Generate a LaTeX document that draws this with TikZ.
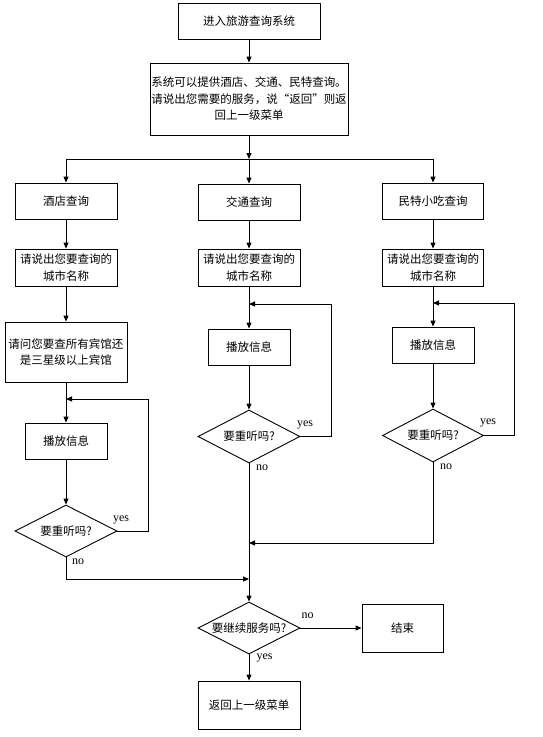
\documentclass[tikz,border=0pt]{standalone}
\usepackage{fontspec}
\setmainfont{Liberation Serif}
\newfontfamily\cjk{Noto Sans CJK SC}
\usetikzlibrary{arrows.meta,shapes.geometric}
\begin{document}
\begin{tikzpicture}[x=1pt,y=-1pt,
  box/.style={draw,rectangle,inner sep=0pt,align=center,font=\cjk\fontsize{11.5}{16.5}\selectfont},
  dia/.style={draw,diamond,shape aspect=2,inner sep=0pt,minimum width=102pt,minimum height=52pt,font=\cjk\fontsize{11.5}{14}\selectfont},
  arr/.style={-{Triangle[length=6pt,width=5pt]}},
  lbl/.style={font=\fontsize{12}{12}\selectfont,inner sep=0pt},
  line width=0.9pt]
\useasboundingbox (0,0) rectangle (542,737);
% nodes
\node[box,minimum width=142pt,minimum height=36pt] (start) at (249,21) {进入旅游查询系统};
\node[box,minimum width=198pt,minimum height=72pt] (sys) at (249,99) {系统可以提供酒店、交通、民特查询。\\请说出您需要的服务，说“返回”则返\\回上一级菜单};
\node[box,minimum width=102pt,minimum height=36pt] (hotel) at (66,201) {酒店查询};
\node[box,minimum width=102pt,minimum height=36pt] (traffic) at (249,202) {交通查询};
\node[box,minimum width=101pt,minimum height=36pt] (food) at (433,201) {民特小吃查询};
\node[box,minimum width=102pt,minimum height=37pt] (city1) at (66,267.5) {请说出您要查询的\\城市名称};
\node[box,minimum width=102pt,minimum height=37pt] (city2) at (249,267.5) {请说出您要查询的\\城市名称};
\node[box,minimum width=101pt,minimum height=37pt] (city3) at (433,267.5) {请说出您要查询的\\城市名称};
\node[box,minimum width=122pt,minimum height=60pt] (ask) at (66,352) {请问您要查所有宾馆还\\是三星级以上宾馆};
\node[box,minimum width=82pt,minimum height=36pt] (play1) at (66,441) {播放信息};
\node[box,minimum width=82pt,minimum height=36pt] (play2) at (249,347) {播放信息};
\node[box,minimum width=82pt,minimum height=36pt] (play3) at (433,345) {播放信息};
\node[dia] (dia1) at (66,531) {要重听吗?};
\node[dia,minimum height=53pt] (dia2) at (249,436.5) {要重听吗?};
\node[dia,minimum width=101pt,minimum height=53pt] (dia3) at (433,435.5) {要重听吗?};
\node[dia] (dia4) at (249,628) {要继续服务吗?};
\node[box,minimum width=81pt,minimum height=48pt] (end) at (402.5,628) {结束};
\node[box,minimum width=102pt,minimum height=48pt] (back) at (249,705) {返回上一级菜单};
% labels
\node[lbl] (y1) at (121,520) {yes};
\node[lbl] (y2) at (305,424.5) {yes};
\node[lbl] (y3) at (488,423) {yes};
\node[lbl] (n1) at (78,562) {no};
\node[lbl] (n2) at (262,468) {no};
\node[lbl] (n3) at (446,467) {no};
\node[lbl] (n4) at (307.5,615.5) {no};
\node[lbl] (y4) at (264.5,658) {yes};
% coordinates
\coordinate (br) at (249,159);
\coordinate (m1) at (66,399);
\coordinate (r1) at (148,399);
\coordinate (m2) at (249,304);
\coordinate (r2) at (331,304);
\coordinate (m3) at (433,303);
\coordinate (r3) at (514,303);
\coordinate (jL) at (249,579);
\coordinate (jR) at (249,543);
% connectors
\draw[arr] (start) -- (sys);
\draw[arr] (sys) -- (br);
\draw[arr] (br) -- (traffic);
\draw[arr] (br) -| (hotel);
\draw[arr] (br) -| (food);
\draw[arr] (hotel) -- (city1);
\draw[arr] (traffic) -- (city2);
\draw[arr] (food) -- (city3);
\draw[arr] (city1) -- (ask);
\draw[arr] (city2) -- (play2);
\draw[arr] (city3) -- (play3);
\draw[arr] (ask) -- (play1);
\draw[arr] (play1) -- (dia1);
\draw[arr] (play2) -- (dia2);
\draw[arr] (play3) -- (dia3);
\draw[arr] (dia1.east) -| (r1) -- (m1);
\draw[arr] (dia2.east) -| (r2) -- (m2);
\draw[arr] (dia3.east) -| (r3) -- (m3);
\draw[arr] (dia1.south) |- (jL);
\draw[arr] (dia3.south) |- (jR);
\draw[arr] (dia2.south) -- (dia4.north);
\draw[arr] (dia4.east) -- (end.west);
\draw[arr] (dia4.south) -- (back.north);
\end{tikzpicture}
\end{document}
